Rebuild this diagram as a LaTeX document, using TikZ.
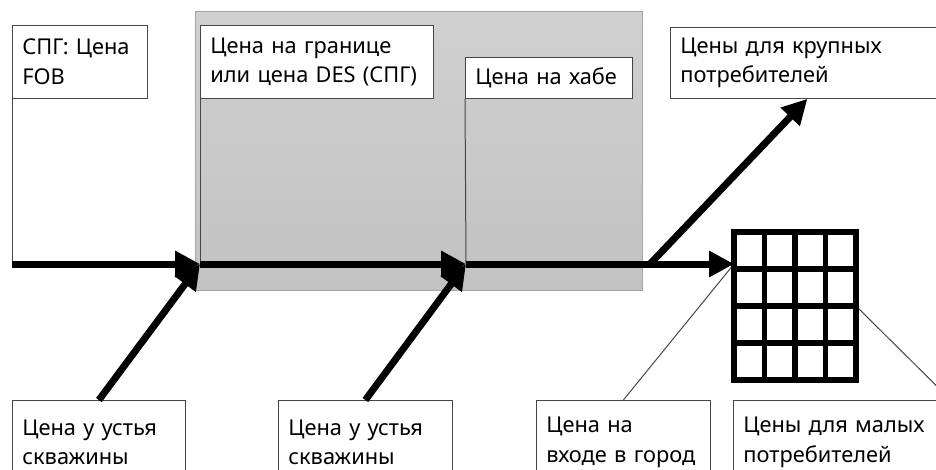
\documentclass[tikz,border=0pt]{standalone}
\usepackage{fontspec}
\setmainfont{Noto Sans}
\usetikzlibrary{arrows.meta}
\definecolor{boxline}{RGB}{70,70,70}
\definecolor{paneltop}{RGB}{208,208,208}
\definecolor{panelbottom}{RGB}{194,194,194}
\definecolor{panelline}{RGB}{165,165,165}

\begin{document}
\begin{tikzpicture}[x=0.5pt, y=-0.5pt,
    pricebox/.style={draw=boxline, fill=white, anchor=north west, align=left,
        inner xsep=5pt, inner ysep=0pt, font=\fontsize{10.9}{14.7}\selectfont},
    flow/.style={line width=3.5pt, -{Triangle[length=12.5pt, width=12.5pt]}},
    callout/.style={draw=boxline, line width=0.5pt},
    cell/.style={line width=2.6pt}]
\useasboundingbox (0,0) rectangle (936,470);
\clip (0,0) rectangle (936,470);

% grey panel behind the transport part
\shade[top color=paneltop, bottom color=panelbottom, draw=panelline, line width=0.5pt]
    (195,12) rectangle (642,290);

% points on the main flow
\coordinate (fob0) at (12,264);
\coordinate (border0) at (200,264);
\coordinate (hub0) at (466,264);
\coordinate (fork) at (650,264);
\coordinate (gridin) at (734,264);
\coordinate (gridout) at (856,306);

% price boxes
\node[pricebox, text width=57.5pt, minimum height=36.5pt] (fob) at (12,25) {СПГ: Цена\\FOB};
\node[pricebox, text width=106.5pt, minimum height=36.5pt] (border) at (200,25) {Цена на границе\\или цена DES (СПГ)};
\node[pricebox, text width=73.5pt, minimum height=20.5pt] (hub) at (465,57) {Цена на хабе};
\node[pricebox, text width=127pt, minimum height=35.5pt] (large) at (670,27) {Цены для крупных\\потребителей};
\node[pricebox, text width=76.5pt, minimum height=42pt] (well1) at (12,400) {Цена у устья\\скважины};
\node[pricebox, text width=77pt, minimum height=42pt] (well2) at (278,400) {Цена у устья\\скважины};
\node[pricebox, text width=77pt, minimum height=42pt] (city) at (536,400) {Цена на\\входе в город};
\node[pricebox, text width=98.5pt, minimum height=42pt] (small) at (733,400) {Цены для малых\\потребителей};

% callouts
\draw[callout] (fob.south west) -- (fob0);
\draw[callout] (border.south west) -- (border0);
\draw[callout] (hub.south west) -- (hub0);
\draw[callout] (gridin) -- (city.north);
\draw[callout] (gridout) -- (small.north east);

% city grid
\draw[cell] (734,232) rectangle (856,380);
\foreach \i in {1,2,3} {
    \draw[cell] (734+30.5*\i,232) -- (734+30.5*\i,380);
    \draw[cell] (734,232+37*\i) -- (856,232+37*\i);
}

% flows
\draw[flow] (fob0) -- (border0);
\draw[flow] (border0) -- (hub0);
\draw[flow] (hub0) -- (gridin);
\draw[flow] (well1.north) -- (border0);
\draw[flow] (well2.north) -- (hub0);
\draw[flow] (fork) -- (large.south);

\end{tikzpicture}
\end{document}
